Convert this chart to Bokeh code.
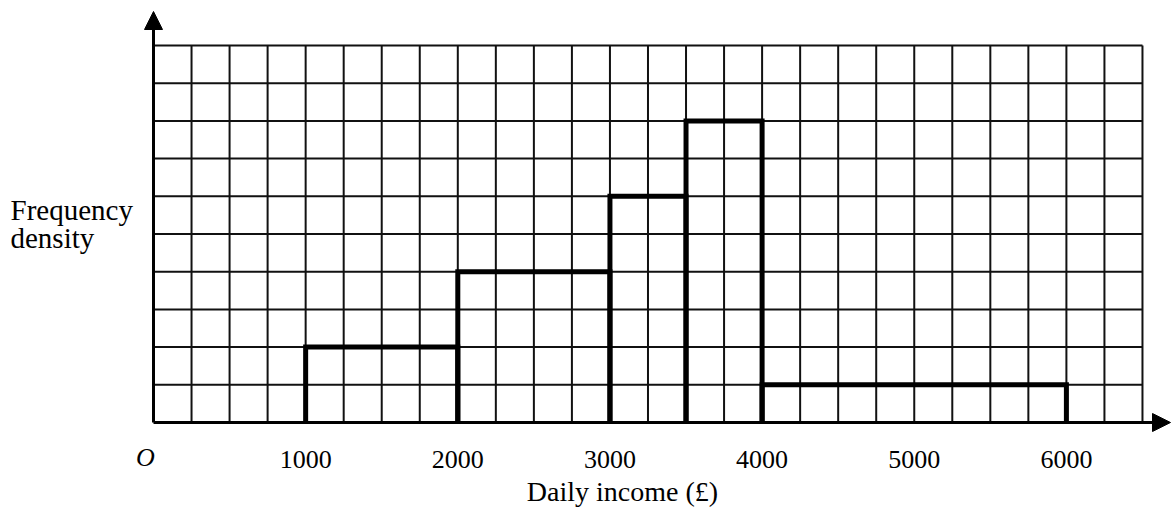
import numpy as np
from bokeh.plotting import figure
from bokeh.models import Range1d, Arrow, NormalHead, ColumnDataSource
from bokeh.core.properties import value
from bokeh.embed import file_html
from bokeh.resources import INLINE

# ---- data ----
bin_edges = [1000, 2000, 3000, 3500, 4000, 6000]
freq_density = [2, 4, 6, 8, 1]
tick_values = [1000, 2000, 3000, 4000, 5000, 6000]
tick_labels = ["1000", "2000", "3000", "4000", "5000", "6000"]
x_label = "Daily income (£)"
y_label_lines = ["Frequency", "density"]
origin_label = "O"
grid_x_max = 6500
grid_x_step = 250
grid_y_max = 10
grid_y_step = 1

FONT = value("Liberation Serif")

# scales: x=0 at px 153, 0.15215 px per unit; y=0 at px 422, 37.7 px per unit
W, H = 1171, 511
X0PX, XS = 153.0, 0.15215
Y0PX, YS = 422.0, 37.7
x_range = Range1d(-X0PX / XS, (W - X0PX) / XS)
y_range = Range1d(-(H - Y0PX) / YS, Y0PX / YS)

def dx(px):
    return (px - X0PX) / XS

def dy(py):
    return (Y0PX - py) / YS

p = figure(width=W, height=H, output_backend="svg", toolbar_location=None,
           x_range=x_range, y_range=y_range, min_border=0,
           x_axis_location=None, y_axis_location=None)
p.outline_line_color = None
p.xgrid.visible = False
p.ygrid.visible = False
p.background_fill_color = "white"
p.border_fill_color = "white"

# grid
gx = np.arange(0, grid_x_max + 1, grid_x_step)
gy = np.arange(0, grid_y_max + 1, grid_y_step)
p.segment(x0=gx[1:], y0=0, x1=gx[1:], y1=grid_y_max, line_color="#111111", line_width=2)
p.segment(x0=0, y0=gy[1:], x1=grid_x_max, y1=gy[1:], line_color="#111111", line_width=2)

# histogram outline (no bottom edge)
xs, ys = [], []
for i, h in enumerate(freq_density):
    l, r = bin_edges[i], bin_edges[i + 1]
    xs.append([l, l, r, r])
    ys.append([0, h, h, 0])
p.multi_line(xs=xs, ys=ys, line_color="black", line_width=5, line_join="miter")

# axes with arrows
p.add_layout(Arrow(x_start=0, y_start=0, x_end=0, y_end=dy(11), line_width=3,
                   line_color="black",
                   end=NormalHead(size=18, fill_color="black", line_color="black")))
p.add_layout(Arrow(x_start=0, y_start=0, x_end=dx(1170), y_end=0, line_width=3,
                   line_color="black",
                   end=NormalHead(size=18, fill_color="black", line_color="black")))

# tick labels
tsrc = ColumnDataSource(dict(x=tick_values, y=[dy(459)] * len(tick_values), t=tick_labels))
p.text(x="x", y="y", text="t", source=tsrc, text_font=FONT, text_font_size="26px",
       text_align="center", text_baseline="alphabetic", text_color="black")

# origin label
p.text(x=[dx(145)], y=[dy(457)], text=[origin_label], text_font=FONT,
       text_font_style="italic", text_font_size="26px", text_align="center",
       text_baseline="alphabetic", text_color="black")

# x axis title
p.text(x=[dx(622)], y=[dy(491)], text=[x_label], text_font=FONT, text_font_size="28px",
       text_align="center", text_baseline="alphabetic", text_color="black")

# y axis title (two lines)
p.text(x=[dx(10), dx(10)], y=[dy(209), dy(237)], text=y_label_lines, text_font=FONT,
       text_font_size="29px", text_align="left", text_baseline="alphabetic",
       text_color="black")

open("out.html", "w").write(file_html(p, INLINE))
